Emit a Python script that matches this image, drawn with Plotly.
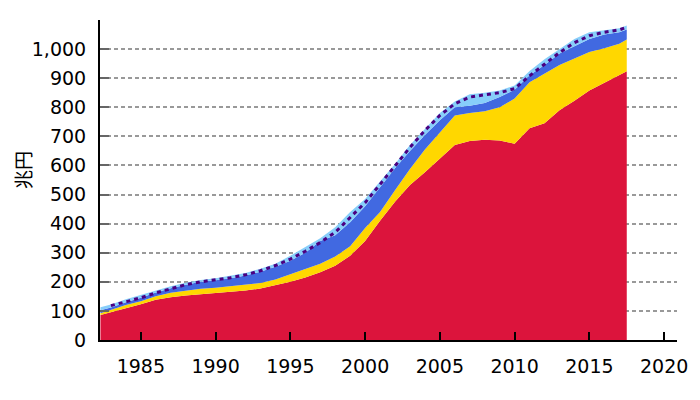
import plotly.graph_objects as go

# years (approximate positions)
years = [1982.3, 1983, 1984, 1985, 1986, 1987, 1988, 1989, 1990, 1991, 1992,
         1993, 1994, 1995, 1996, 1997, 1998, 1999, 2000, 2001, 2002, 2003,
         2004, 2005, 2006, 2007, 2008, 2009, 2010, 2011, 2012, 2013, 2014,
         2015, 2016, 2017, 2017.5]

# upper edge of each stacked band (兆円)
red_top = [86, 95, 110, 123, 138, 147, 153, 157, 160, 165, 170,
           177, 188, 200, 215, 233, 255, 290, 340, 410, 475, 533,
           577, 625, 670, 684, 688, 686, 675, 728, 745, 790, 822,
           858, 885, 910, 924]
yellow_top = [92, 103, 120, 133, 150, 162, 170, 176, 180, 186, 191,
              196, 208, 226, 242, 262, 287, 322, 385, 440, 515, 588,
              655, 715, 772, 780, 786, 800, 830, 886, 915, 945, 968,
              990, 1003, 1018, 1033]
blue_top = [102, 112, 130, 145, 163, 178, 190, 200, 205, 212, 222,
            235, 252, 272, 300, 340, 360, 405, 460, 525, 590, 650,
            705, 755, 800, 805, 815, 835, 860, 910, 945, 985, 1010,
            1035, 1050, 1058, 1067]
lightblue_top = [113, 122, 140, 155, 170, 185, 197, 206, 212, 220, 230,
                 245, 262, 290, 320, 350, 388, 440, 485, 545, 605, 670,
                 725, 780, 820, 845, 850, 858, 875, 925, 965, 1000, 1035,
                 1058, 1066, 1072, 1081]
total_line = [None, 118, 132, 145, 162, 177, 190, 200, 207, 214, 224,
              238, 256, 278, 305, 335, 370, 420, 472, 535, 600, 662,
              720, 772, 812, 835, 843, 850, 864, 908, 948, 988, 1022,
              1046, 1058, 1066, 1075]

tick_years = [1985, 1990, 1995, 2000, 2005, 2010, 2015, 2020]
tick_values = [0, 100, 200, 300, 400, 500, 600, 700, 800, 900, 1000]

FONT = "DejaVu Sans"

fig = go.Figure()

bands = [
    (red_top, "#DC143C", "tozeroy"),
    (yellow_top, "#FFD700", "tonexty"),
    (blue_top, "#4169E1", "tonexty"),
    (lightblue_top, "#87CEFA", "tonexty"),
]
for tops, color, fill in bands:
    fig.add_trace(go.Scatter(
        x=years, y=tops, mode="lines", fill=fill,
        fillcolor=color, line=dict(width=0, color=color),
        showlegend=False, hoverinfo="skip"
    ))

# dashed total line
fig.add_trace(go.Scatter(
    x=years, y=total_line, mode="lines",
    line=dict(color="#4b0082", width=3, dash="4px,4px"),
    showlegend=False
))

# page body has an 8px margin, so the figure is a bit smaller than the window
fig.update_layout(
    width=692, height=392,
    margin=dict(l=92, r=20, t=12, b=60),
    plot_bgcolor="white", paper_bgcolor="white",
    font=dict(family=FONT, size=19, color="black"),
    xaxis=dict(
        range=[1982.27, 2020.86], tickvals=tick_years,
        ticks="inside", ticklen=8, tickwidth=2, tickcolor="black",
        showline=True, linecolor="black", linewidth=2,
        showgrid=False, zeroline=False, ticklabelstandoff=8
    ),
    yaxis=dict(
        range=[0, 1100], tickvals=tick_values, tickformat=",",
        ticks="inside", ticklen=9, tickwidth=2, tickcolor="#666666",
        showline=True, linecolor="black", linewidth=2,
        showgrid=True, gridcolor="#999999", gridwidth=1.5, griddash="4px,3px",
        zeroline=False, ticklabelstandoff=8
    ),
)

fig.add_annotation(
    xref="paper", yref="paper", x=-0.134, y=0.53,
    text="兆円", textangle=-90, showarrow=False,
    font=dict(family="Noto Sans CJK JP", size=19, color="black"),
    xanchor="center", yanchor="middle"
)

fig.write_html("out.html")
